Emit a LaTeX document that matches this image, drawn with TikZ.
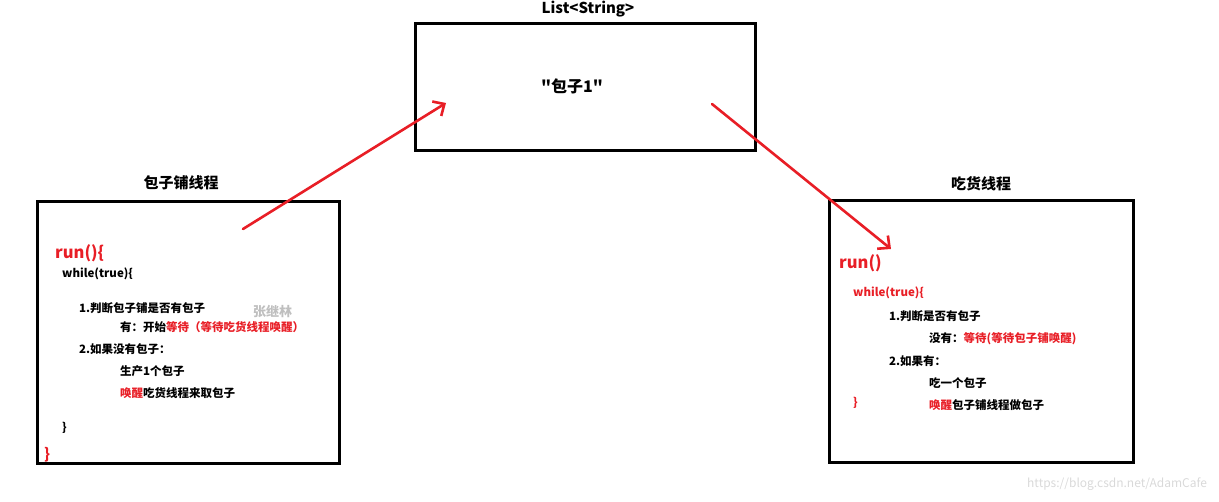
\documentclass[tikz,border=0pt]{standalone}
\usepackage{fontspec}
\setmainfont{Noto Sans CJK SC}
\newfontfamily\plainq{Noto Sans CJK SC}
\usetikzlibrary{arrows.meta}
\definecolor{myred}{RGB}{232,30,38}
\tikzset{
  box/.style={draw=black, line width=3pt, minimum width=#1, inner sep=0pt},
  ttl/.style={font=\fontsize{15}{18}\selectfont\bfseries, text=black, inner sep=0pt},
  code/.style={anchor=west, font=\fontsize{11.5}{14}\selectfont\bfseries, inner sep=0pt},
  runtxt/.style={anchor=west, font=\fontsize{16.5}{20}\selectfont\bfseries, text=myred, inner sep=0pt},
  redarrow/.style={draw=myred, line width=2.6pt, line cap=round, -{Straight Barb[length=9pt,width=17pt,line width=2.6pt]}},
  wm/.style={anchor=west, text=black!25, inner sep=0pt}
}
\begin{document}
\begin{tikzpicture}[x=1pt,y=-1pt]
\useasboundingbox (0,0) rectangle (1219,502);
% watermarks
\node[wm, font=\fontsize{13}{15}\selectfont\bfseries] (wm1) at (253,311) {张继林};
\node[wm, text=black!15, font=\fontsize{12}{14}\selectfont] (wm2) at (1027,484) {https://blog.csdn.net/AdamCafe};
% boxes
\node[box=302pt, minimum height=262pt] (left) at (188,333) {};
\node[box=340pt, minimum height=127pt] (list) at (585,87.5) {};
\node[box=304pt, minimum height=262pt] (right) at (981,332) {};
% titles
\node[ttl] (tleft) at (181,183) {包子铺线程};
\node[ttl] (tlist) at (588,9) {List<String>};
\node[ttl] (tright) at (981,184) {吃货线程};
\node[ttl, font=\fontsize{16}{19}\selectfont\bfseries] (item) at (572,86) {{\plainq\bfseries "}包子1{\plainq\bfseries "}};
% left code
\node[runtxt] (lrun) at (55,253) {run()\{};
\node[code] (lwhile) at (62,274) {while(true)\{};
\node[code] (l1) at (79,308) {1.判断包子铺是否有包子};
\node[code] (l2) at (120,327) {有：开始\textcolor{myred}{等待（等待吃货线程唤醒）}};
\node[code] (l3) at (79,349) {2.如果没有包子：};
\node[code] (l4) at (120,371) {生产1个包子};
\node[code] (l5) at (120,393) {\textcolor{myred}{唤醒}吃货线程来取包子};
\node[code] (l6) at (62,428) {\}};
\node[code, text=myred, font=\fontsize{15}{18}\selectfont\bfseries] (l7) at (44,455) {\}};
% right code
\node[runtxt] (rrun) at (839,263) {run()};
\node[code, text=myred] (rwhile) at (853,293) {while(true)\{};
\node[code] (r1) at (889,316) {1.判断是否有包子};
\node[code] (r2) at (929,339) {没有：\textcolor{myred}{等待(等待包子铺唤醒)}};
\node[code] (r3) at (889,361) {2.如果有：};
\node[code] (r4) at (929,383) {吃一个包子};
\node[code, text=myred] (r5) at (853,403) {\}};
\node[code] (r6) at (929,405) {\textcolor{myred}{唤醒}包子铺线程做包子};
% arrows
\coordinate (a1s) at (243,229);
\coordinate (a1e) at (446,103);
\coordinate (a2s) at (712,104);
\coordinate (a2e) at (891,249);
\draw[redarrow] (a1s) -- (a1e);
\draw[redarrow] (a2s) -- (a2e);
\end{tikzpicture}
\end{document}
